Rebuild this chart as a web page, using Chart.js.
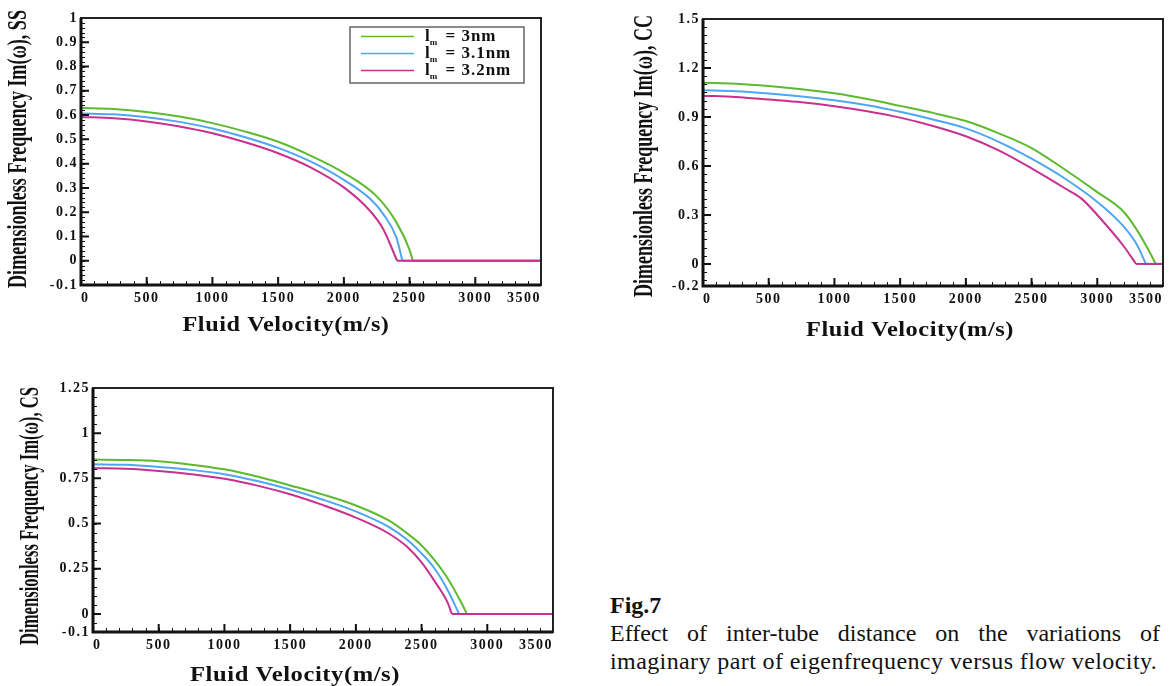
<!DOCTYPE html>
<html><head><meta charset="utf-8">
<script src="https://cdn.jsdelivr.net/npm/chart.js@4/dist/chart.umd.min.js"></script>
<style>
html,body{margin:0;padding:0;background:#fff}
body{width:1172px;height:686px;overflow:hidden;position:relative;font-family:'Liberation Serif','Times New Roman',serif;color:#111}
canvas{position:absolute;display:block}
#cap{position:absolute;left:610px;top:591px;width:550px;font-size:24px;line-height:28px}
#cap .t{font-weight:bold;font-size:24px}
#cap .j{text-align:justify;text-align-last:justify}
#cap .l2{letter-spacing:0.4px;white-space:nowrap}
</style></head><body>
<canvas id="ss" width="560" height="345" style="left:0;top:0"></canvas>
<canvas id="cc" width="552" height="345" style="left:620px;top:0"></canvas>
<canvas id="cs" width="570" height="326" style="left:0;top:360px"></canvas>
<div id="cap"><div class="t">Fig.7</div><div class="j">Effect of inter-tube distance on the variations of</div><div class="l2">imaginary part of eigenfrequency versus flow velocity.</div></div>
<script>
// ---------- data ----------
const seriesNames = ['3nm', '3.1nm', '3.2nm'];
const seriesColors = ['#5dba2f', '#4fa6f2', '#c8318f'];

const xTickValues = [0, 500, 1000, 1500, 2000, 2500, 3000, 3500];

// SS
const ssGreenV = [0,250,500,750,1000,1250,1500,1750,2000,2250,2400,2500,2525,3500];
const ssGreenF = [0.629,0.625,0.613,0.594,0.567,0.532,0.490,0.432,0.362,0.265,0.158,0.045,0,0];
const ssBlueV  = [0,250,500,750,1000,1250,1500,1750,2000,2200,2300,2400,2445,3500];
const ssBlueF  = [0.607,0.603,0.591,0.572,0.545,0.509,0.465,0.408,0.333,0.255,0.192,0.095,0,0];
const ssMagV   = [0,250,500,750,1000,1250,1500,1750,2000,2200,2300,2405,3500];
const ssMagF   = [0.592,0.587,0.574,0.553,0.525,0.488,0.443,0.384,0.302,0.205,0.130,0,0];
const ssYTicks = [-0.1,0,0.1,0.2,0.3,0.4,0.5,0.6,0.7,0.8,0.9,1];
const ssYLabels = ['-0.1','0','0.1','0.2','0.3','0.4','0.5','0.6','0.7','0.8','0.9','1'];

// CC
const ccGreenV = [0,250,500,750,1000,1250,1500,1750,2000,2250,2500,2750,3000,3200,3300,3400,3445,3500];
const ccGreenF = [1.110,1.104,1.090,1.070,1.045,1.010,0.968,0.925,0.875,0.800,0.710,0.580,0.440,0.320,0.210,0.070,0,0];
const ccBlueV  = [0,250,500,750,1000,1250,1500,1750,2000,2250,2500,2750,3000,3200,3300,3370,3500];
const ccBlueF  = [1.064,1.058,1.044,1.026,1.003,0.972,0.932,0.885,0.830,0.748,0.645,0.525,0.380,0.230,0.120,0,0];
const ccMagV   = [0,250,500,750,1000,1250,1500,1750,2000,2250,2500,2750,2880,3000,3200,3295,3500];
const ccMagF   = [1.030,1.023,1.007,0.990,0.966,0.935,0.896,0.845,0.782,0.695,0.585,0.465,0.400,0.300,0.110,0,0];
const ccYTicks = [-0.135,0,0.3,0.6,0.9,1.2,1.5];
const ccYLabels = ['-0.2','0','0.3','0.6','0.9','1.2','1.5'];

// CS
const csGreenV = [0,250,500,750,1000,1250,1500,1750,2000,2250,2400,2500,2600,2700,2800,2845,3500];
const csGreenF = [0.854,0.852,0.845,0.826,0.800,0.760,0.711,0.660,0.600,0.517,0.440,0.379,0.296,0.195,0.066,0,0];
const csBlueV  = [0,250,500,750,1000,1250,1500,1750,2000,2250,2400,2500,2600,2700,2785,3500];
const csBlueF  = [0.828,0.825,0.813,0.797,0.773,0.735,0.688,0.632,0.567,0.482,0.405,0.335,0.250,0.130,0,0];
const csMagV   = [0,250,500,750,1000,1250,1500,1750,2000,2250,2400,2500,2600,2700,2730,3500];
const csMagF   = [0.806,0.803,0.791,0.773,0.748,0.710,0.662,0.602,0.533,0.445,0.365,0.285,0.180,0.060,0,0];
const csYTicks = [-0.1,0,0.25,0.5,0.75,1,1.25];
const csYLabels = ['-0.1','0','0.25','0.5','0.75','1','1.25'];

// ---------- helpers ----------
const pts = (v, f) => v.map((x, i) => ({x: x, y: f[i]}));
const tickFont = {family: "'Liberation Serif', serif", weight: 'bold', size: 14};

const deco = {
  id: 'deco',
  beforeDraw(chart) { chart.ctx.letterSpacing = '1.5px'; },
  beforeDatasetsDraw(chart) { chart.ctx.letterSpacing = '0px'; },
  afterDraw(chart, args, o) {
    const ctx = chart.ctx, a = chart.chartArea, xs = chart.scales.x, ys = chart.scales.y;
    ctx.save();
    ctx.letterSpacing = '0px';
    ctx.strokeStyle = '#111';
    // minor ticks
    ctx.lineWidth = 1;
    ctx.beginPath();
    const y0 = Math.ceil((ys.min - 1e-9) / o.yMinor);
    for (let k = y0; k * o.yMinor <= ys.max + 1e-9; k++) {
      const p = Math.round(ys.getPixelForValue(k * o.yMinor)) + 0.5;
      ctx.moveTo(a.left, p); ctx.lineTo(a.left + 4, p);
    }
    for (let k = 0; k * o.xMinor <= xs.max + 1e-9; k++) {
      const p = Math.round(xs.getPixelForValue(k * o.xMinor)) + 0.5;
      ctx.moveTo(p, a.bottom); ctx.lineTo(p, a.bottom - 4);
    }
    ctx.stroke();
    // major ticks
    ctx.lineWidth = 2;
    ctx.beginPath();
    ys.ticks.forEach(t => { const p = ys.getPixelForValue(t.value); ctx.moveTo(a.left, p); ctx.lineTo(a.left + 8, p); });
    xs.ticks.forEach(t => { const p = xs.getPixelForValue(t.value); ctx.moveTo(p, a.bottom); ctx.lineTo(p, a.bottom - 8); });
    ctx.stroke();
    // frame
    ctx.lineWidth = 2;
    ctx.strokeStyle = '#222';
    ctx.strokeRect(a.left, a.top, a.right - a.left, a.bottom - a.top);
    ctx.lineWidth = 3;
    ctx.strokeStyle = '#111';
    ctx.beginPath();
    ctx.moveTo(a.left, a.top); ctx.lineTo(a.left, a.bottom); ctx.lineTo(a.right, a.bottom);
    ctx.stroke();
    // y title (condensed)
    ctx.fillStyle = '#111';
    ctx.save();
    ctx.translate(o.yTitleX, o.yTitleY);
    ctx.rotate(-Math.PI / 2);
    ctx.font = "bold 27px 'Liberation Serif', serif";
    ctx.textAlign = 'center'; ctx.textBaseline = 'middle';
    let w = ctx.measureText(o.yTitle).width;
    ctx.scale(o.yTitleLen / w, 1);
    ctx.fillText(o.yTitle, 0, 0);
    ctx.restore();
    // x title
    ctx.save();
    ctx.translate(o.xTitleX, o.xTitleY);
    ctx.font = "bold 22px 'Liberation Serif', serif";
    ctx.textAlign = 'center'; ctx.textBaseline = 'middle';
    ctx.letterSpacing = '0.5px';
    w = ctx.measureText(o.xTitle).width;
    ctx.scale(o.xTitleLen / w, 1);
    ctx.fillText(o.xTitle, 0, 0);
    ctx.restore();
    // legend
    if (o.legend) {
      const L = o.legend;
      ctx.fillStyle = '#fff';
      ctx.fillRect(L.x, L.y, L.w, L.h);
      ctx.lineWidth = 1.5; ctx.strokeStyle = '#666';
      ctx.strokeRect(L.x, L.y, L.w, L.h);
      [0, 1, 2].forEach((si, r) => {
        const ds = chart.data.datasets.find(d => d.seriesIndex === si);
        const yy = L.y + 9.5 + r * 17;
        ctx.strokeStyle = ds.borderColor; ctx.lineWidth = 1.5;
        ctx.beginPath(); ctx.moveTo(L.x + 11, yy); ctx.lineTo(L.x + 64, yy); ctx.stroke();
        ctx.fillStyle = '#111';
        ctx.textAlign = 'left'; ctx.textBaseline = 'middle';
        ctx.letterSpacing = '1px';
        ctx.font = "bold 17px 'Liberation Serif', serif";
        let x = L.x + 75;
        ctx.fillText('l', x, yy);
        x += ctx.measureText('l').width;
        ctx.font = "bold 9px 'Liberation Serif', serif";
        ctx.fillText('m', x - 1, yy + 6);
        x += ctx.measureText('m').width + 1;
        ctx.font = "bold 17px 'Liberation Serif', serif";
        ctx.fillText(' = ' + seriesNames[si], x, yy);
      });
    }
    ctx.restore();
  }
};

function makeChart(id, sets, yMin, yMax, yTicks, yLabels, yWidth, xHeight, padding, decoOpts) {
  const datasets = [];
  sets.forEach(s => {
    const all = pts(s.v, s.f);
    const z = s.f.indexOf(0);
    const common = {
      seriesIndex: s.i,
      borderColor: seriesColors[s.i],
      backgroundColor: seriesColors[s.i],
      borderWidth: 2,
      pointRadius: 0,
      fill: false,
      order: 3 - s.i
    };
    // decaying branch (smooth) and the flat branch after the frequency reaches zero
    datasets.push(Object.assign({label: 'lm = ' + seriesNames[s.i], data: all.slice(0, z + 1), cubicInterpolationMode: 'monotone'}, common));
    datasets.push(Object.assign({label: 'lm = ' + seriesNames[s.i] + ' (zero)', data: all.slice(z), tension: 0}, common));
  });
  return new Chart(document.getElementById(id), {
    type: 'line',
    data: {datasets},
    options: {
      responsive: false, animation: false, devicePixelRatio: 1,
      layout: {padding},
      plugins: {legend: {display: false}, tooltip: {enabled: false}, deco: decoOpts},
      scales: {
        x: {
          type: 'linear', min: 0, max: 3500,
          afterBuildTicks: s => { s.ticks = xTickValues.map(v => ({value: v})); },
          afterFit: s => { s.height = xHeight; },
          ticks: {font: tickFont, color: '#111', padding: 5, align: 'inner', maxRotation: 0, autoSkip: false, callback: v => String(v)},
          grid: {display: false, drawTicks: false}, border: {display: false}
        },
        y: {
          type: 'linear', min: yMin, max: yMax,
          afterBuildTicks: s => { s.ticks = yTicks.map(v => ({value: v})); },
          afterFit: s => { s.width = yWidth; },
          ticks: {font: tickFont, color: '#111', padding: 3, autoSkip: false, callback: (v, i) => yLabels[i]},
          grid: {display: false, drawTicks: false}, border: {display: false}
        }
      }
    },
    plugins: [deco]
  });
}

makeChart('ss', [
  {i: 0, v: ssGreenV, f: ssGreenF},
  {i: 1, v: ssBlueV, f: ssBlueF},
  {i: 2, v: ssMagV, f: ssMagF}
], -0.1, 1, ssYTicks, ssYLabels, 81, 60, {left: 0, top: 18, right: 19, bottom: 0}, {
  yMinor: 0.02, xMinor: 100,
  yTitle: 'Dimensionless Frequency Im(\u03c9), SS', yTitleX: 19, yTitleY: 149, yTitleLen: 278,
  xTitle: 'Fluid Velocity(m/s)', xTitleX: 286, xTitleY: 325, xTitleLen: 207,
  legend: {x: 350, y: 27, w: 174, h: 56}
});

makeChart('cc', [
  {i: 0, v: ccGreenV, f: ccGreenF},
  {i: 1, v: ccBlueV, f: ccBlueF},
  {i: 2, v: ccMagV, f: ccMagF}
], -0.135, 1.5, ccYTicks, ccYLabels, 83, 59, {left: 0, top: 19, right: 9, bottom: 0}, {
  yMinor: 0.05, xMinor: 100,
  yTitle: 'Dimensionless Frequency Im(\u03c9), CC', yTitleX: 25, yTitleY: 156, yTitleLen: 282,
  xTitle: 'Fluid Velocity(m/s)', xTitleX: 290, xTitleY: 330, xTitleLen: 208
});

makeChart('cs', [
  {i: 0, v: csGreenV, f: csGreenF},
  {i: 1, v: csBlueV, f: csBlueF},
  {i: 2, v: csMagV, f: csMagF}
], -0.1, 1.25, csYTicks, csYLabels, 93, 54, {left: 0, top: 28, right: 17, bottom: 0}, {
  yMinor: 0.05, xMinor: 100,
  yTitle: 'Dimensionless Frequency Im(\u03c9), CS', yTitleX: 31, yTitleY: 156, yTitleLen: 258,
  xTitle: 'Fluid Velocity(m/s)', xTitleX: 295, xTitleY: 315, xTitleLen: 210
});
</script>
</body></html>
